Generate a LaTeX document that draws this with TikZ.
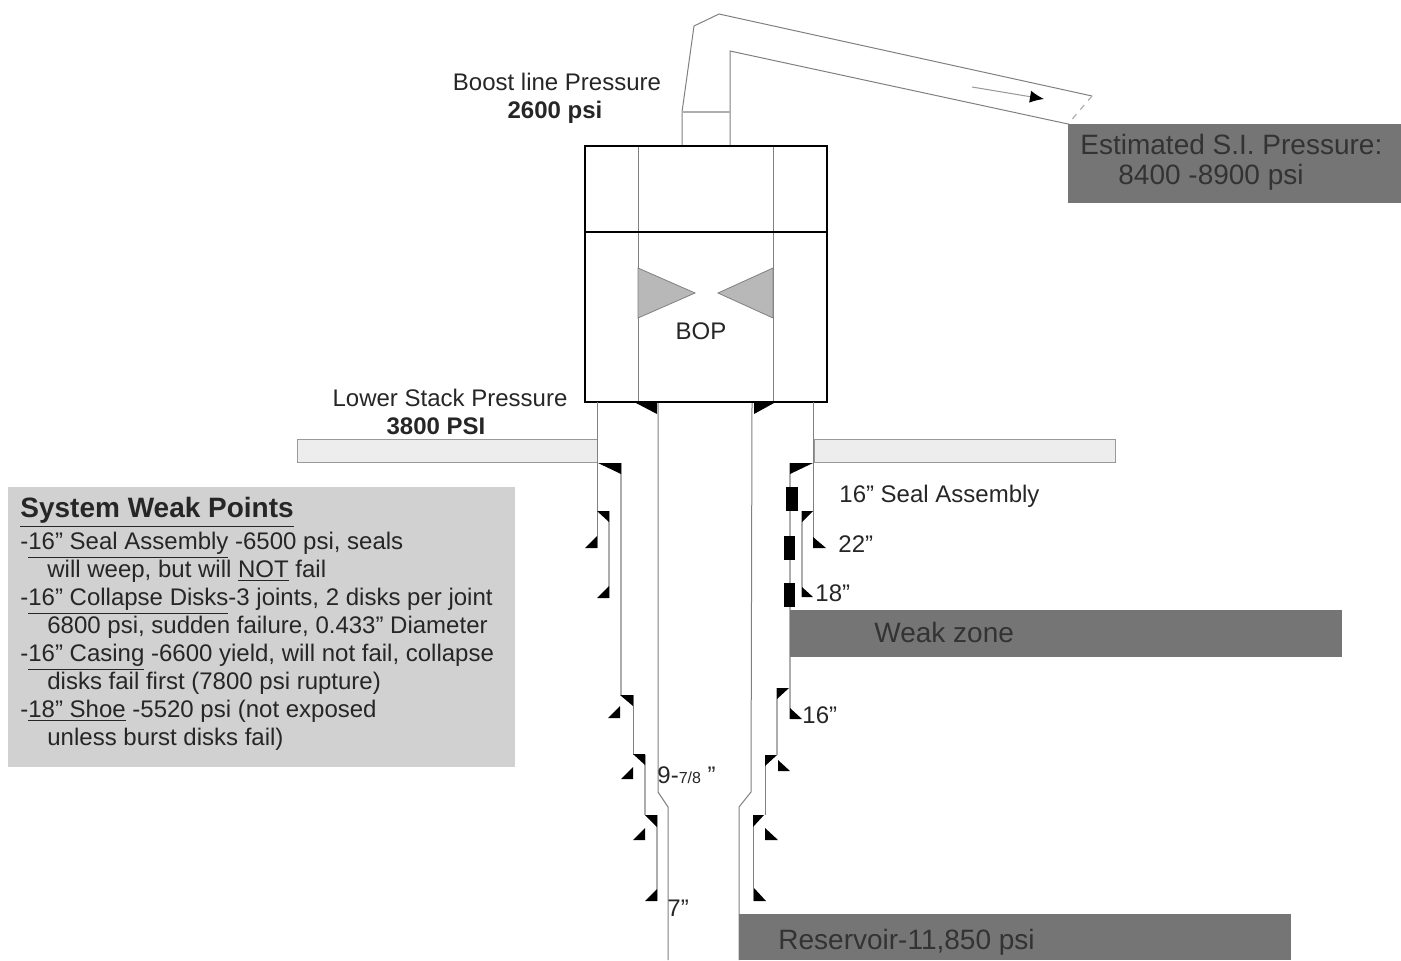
\documentclass[tikz,border=0pt]{standalone}
\usepackage{fontspec}
\setmainfont{Liberation Sans}
\usetikzlibrary{arrows.meta}
\tikzset{
  tube/.style={draw=black!50, line width=0.5pt},
  pale/.style={draw=black!32, line width=0.6pt},
  wall/.style={draw=black, line width=1.3pt},
  darkbox/.style={fill=black!54},
  floorbar/.style={draw=black!40, fill=black!7, line width=0.5pt},
  ram/.style={draw=black!50, fill=black!28, line width=0.4pt},
  lab/.style={inner sep=0pt, font=\fontsize{12}{14}\selectfont, text=black!85},
  boxlab/.style={inner sep=0pt, font=\fontsize{14}{16}\selectfont, text=black!80}
}
\begin{document}
\begin{tikzpicture}[x=0.5pt,y=-0.5pt]
        \useasboundingbox (0,0) rectangle (1401,960);

        % Points
        \coordinate (PipeL) at (682,146);
        \coordinate (PipeR) at (730,146);
        \coordinate (PipeEnd) at (1092,96);
        \coordinate (PipeFoot) at (1068,124);
        \coordinate (FlowA) at (972,87);
        \coordinate (FlowB) at (1044,99);

        % Boost line
        \draw[tube] (PipeL) -- (682,112) -- (694,26) -- (719,14) -- (PipeEnd);
        \draw[tube] (PipeR) -- (730,51) -- (PipeFoot);
        \draw[pale, dashed] (PipeEnd) -- (PipeFoot);
        \draw[pale] (682,112) -- (730,112);
        \draw[black!40, line width=0.5pt, -{Latex[black, length=7pt, width=6pt]}] (FlowA) -- (FlowB);

        % Bore through the stack
        \draw[tube] (638,146) -- (638,402);
        \draw[tube] (773,146) -- (773,402);

        % Rams
        \draw[ram] (638,268) -- (695,293) -- (638,318) -- cycle;
        \draw[ram] (773,268) -- (718,293) -- (773,318) -- cycle;

        % Stack
        \draw[wall] (585,146) rectangle (827,402);
        \draw[wall] (585,232) -- (827,232);

        % Floor
        \draw[floorbar] (297,439) rectangle (597,462);
        \draw[floorbar] (814,439) rectangle (1115,462);

        % Casing strings, left side
        \draw[tube] (597,402) -- (597,548);
        \draw[pale] (609,511) -- (609,598);
        \draw[pale] (621,463) -- (621,695);
        \draw[tube] (633,695) -- (633,755);
        \draw[pale] (645,755) -- (645,815);
        \draw[pale] (657,815) -- (657,901);
        \draw[tube] (658,403) -- (658,792) -- (668,807) -- (668,960);

        % Casing strings, right side
        \draw[tube] (813,402) -- (813,548);
        \draw[pale] (802,511) -- (802,597);
        \draw[pale] (790,463) -- (790,719);
        \draw[pale] (777,688) -- (777,755);
        \draw[tube] (765,755) -- (765,815);
        \draw[tube] (753,815) -- (753,901);
        \draw[tube] (752,403) -- (751,792) -- (739,807) -- (739,960);

        % Hangers and shoes
        \foreach \ax/\ay/\bx/\by/\cx/\cy in {
            636/403/657/403/657/414, 754/403/774/403/754/414,
            598/463/621/463/621/474, 790/463/813/463/790/474,
            597/511/609/511/609/522, 802/511/813/511/802/522,
            585/548/597/548/597/536, 813/537/813/548/826/548,
            597/598/609/598/609/586, 802/587/802/597/813/597,
            620/695/633/695/633/706, 777/688/789/688/777/699,
            608/718/620/718/620/706, 790/708/790/719/802/719,
            633/754/645/754/645/765, 765/755/777/755/765/766,
            621/779/633/779/633/767, 778/760/778/771/790/771,
            645/815/657/815/657/827, 753/815/764/815/753/827,
            633/840/645/840/645/828, 765/828/765/840/778/840,
            645/901/657/901/657/889, 754/888/754/901/766/901}
          \fill (\ax,\ay) -- (\bx,\by) -- (\cx,\cy) -- cycle;

        % Collapse disks
        \fill (786,487) rectangle (798,511);
        \fill (784,536) rectangle (795,560);
        \fill (784,583) rectangle (795,607);

        % Grey panels
        \fill[darkbox] (1068,124) rectangle (1401,203);
        \fill[darkbox] (790,610) rectangle (1342,657);
        \fill[darkbox] (739,914) rectangle (1291,960);
        \fill[black!18] (8,487) rectangle (515,767);

        % Labels
        \node[lab] (boost) at (557,82) {Boost line Pressure};
        \node[lab, font=\fontsize{12}{14}\selectfont\bfseries] (boostval) at (555,112) {2600 psi};
        \node[lab] (lower) at (450,398) {Lower Stack Pressure};
        \node[lab, font=\fontsize{12}{14}\selectfont\bfseries] (lowerval) at (436,426) {3800 PSI};
        \node[lab] (bop) at (701,331) {BOP};
        \node[lab, anchor=west] (seal) at (839,496) {16” Seal Assembly};
        \node[lab, anchor=west] (c22) at (838,544) {22”};
        \node[lab, anchor=west] (c18) at (815,593) {18”};
        \node[lab, anchor=west] (c16) at (802,715) {16”};
        \node[lab, anchor=west] (c9) at (657,775) {9-{\fontsize{8}{10}\selectfont 7/8} ”};
        \node[lab, anchor=west] (c7) at (667,908) {7”};
        \node[boxlab, anchor=west] (est) at (1080,144) {Estimated S.I. Pressure:};
        \node[boxlab, anchor=west] (estval) at (1118,177) {8400 -8900 psi};
        \node[boxlab, anchor=west] (weak) at (874,632) {Weak zone};
        \node[boxlab, anchor=west] (res) at (778,942) {Reservoir-11,850 psi};

        % Weak point list
        \node[lab, anchor=north west, align=left, font=\fontsize{14}{17}\selectfont\bfseries] (weakhead) at (20,497) {\underline{System Weak Points}};
        \node[lab, anchor=north west, align=left, font=\fontsize{12}{14}\selectfont] (weaklist) at (20,532) {%
          -\underline{16” Seal Assembly} -6500 psi, seals\\
          \hspace{13.5pt}will weep, but will \underline{NOT} fail\\
          -\underline{16” Collapse Disks}-3 joints, 2 disks per joint\\
          \hspace{13.5pt}6800 psi, sudden failure, 0.433” Diameter\\
          -\underline{16” Casing} -6600 yield, will not fail, collapse\\
          \hspace{13.5pt}disks fail first (7800 psi rupture)\\
          -\underline{18” Shoe} -5520 psi (not exposed\\
          \hspace{13.5pt}unless burst disks fail)};
    \end{tikzpicture}
\end{document}
